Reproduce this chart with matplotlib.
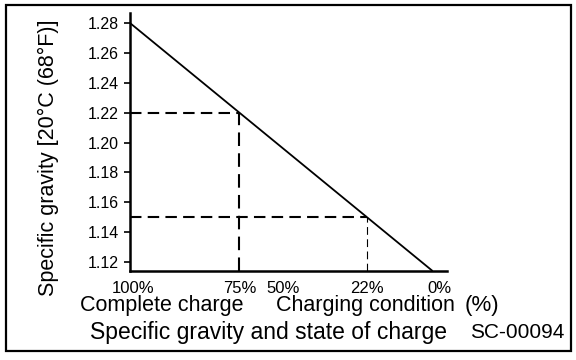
import matplotlib
matplotlib.use("Agg")
import matplotlib.pyplot as plt
from matplotlib.patches import Rectangle
from matplotlib.transforms import ScaledTranslation

plt.rcParams['font.family'] = ['Liberation Sans', 'DejaVu Sans']

# --- data ---
gravity_ticks = [1.12, 1.14, 1.16, 1.18, 1.20, 1.22, 1.24, 1.26, 1.28]
gravity_tick_labels = ["1.12", "1.14", "1.16", "1.18", "1.20", "1.22", "1.24", "1.26", "1.28"]
charge_labels = ["100%", "75%", "50%", "22%", "0%"]
charge_gravity = [1.28, 1.22, 1.196, 1.15, 1.114]   # gravity equivalent of each charge level
line_gravity = [1.28, 1.114]                        # full charge -> empty
marked_gravity = [1.22, 1.15]                       # 75% and 22%
marked_ticks = [1.22, 1.196]                        # small tick marks under axis

W, H = 576, 360
fig = plt.figure(figsize=(W / 100, H / 100), dpi=100)
ax = fig.add_axes([130 / W, 1 - 271 / H, (447 - 130) / W, (271 - 13) / H])

xlo, xhi = 1.28, 1.1061
ylo, yhi = 1.114, 1.2867
ax.set_xlim(xlo, xhi)
ax.set_ylim(ylo, yhi)

# main line
ax.plot(line_gravity, line_gravity, color='black', lw=1.3, solid_capstyle='butt')

# dashed guide lines
ax.plot([xlo, marked_gravity[0]], [marked_gravity[0]] * 2, color='black', lw=1.5, dashes=(5.5, 3))
ax.plot([marked_gravity[0]] * 2, [ylo, marked_gravity[0]], color='black', lw=1.5, dashes=(6.5, 3.5))
ax.plot([xlo, marked_gravity[1]], [marked_gravity[1]] * 2, color='black', lw=1.5, dashes=(5.5, 3))
ax.plot([marked_gravity[1]] * 2, [ylo, marked_gravity[1]], color='black', lw=0.8, dashes=(7, 4))

# spines
for s in ['top', 'right']:
    ax.spines[s].set_visible(False)
for s in ['left', 'bottom']:
    ax.spines[s].set_linewidth(1.8)

ax.set_yticks(gravity_ticks)
ax.set_yticklabels(gravity_tick_labels)
ax.tick_params(axis='y', direction='out', length=4.5, width=1.2, pad=3.5, labelsize=11.5)

ax.set_xticks(charge_gravity)
ax.set_xticklabels(charge_labels)
ax.tick_params(axis='x', which='major', length=0, pad=7, labelsize=12)
ax.set_xticks(marked_ticks, minor=True)
ax.tick_params(axis='x', which='minor', direction='out', length=3, width=1.0)

# small horizontal nudges of first / last charge labels as in the reference
xt = ax.get_xticklabels()
xt[0].set_transform(xt[0].get_transform() + ScaledTranslation(3 / 100, 0, fig.dpi_scale_trans))
xt[-1].set_transform(xt[-1].get_transform() + ScaledTranslation(7 / 100, 0, fig.dpi_scale_trans))

def ftext(x, y, s, **kw):
    fig.text(x / W, 1 - y / H, s, ha='center', va='center', **kw)

ftext(48, 158, "Specific gravity [20°C (68°F)]", rotation=90, fontsize=15.5)
ftext(162, 306, "Complete charge", fontsize=15.5)
ftext(365, 306, "Charging condition", fontsize=15.5)
ftext(482, 306, "(%)", fontsize=16)
ftext(268, 332, "Specific gravity and state of charge", fontsize=16.5)
ftext(517, 332, "SC-00094", fontsize=15)

fig.patches.append(Rectangle((6 / W, 1 - 351 / H), (571 - 6) / W, (351 - 5) / H,
                             transform=fig.transFigure, fill=False, lw=1.6, ec='black'))

fig.savefig("out.png", dpi=100)
